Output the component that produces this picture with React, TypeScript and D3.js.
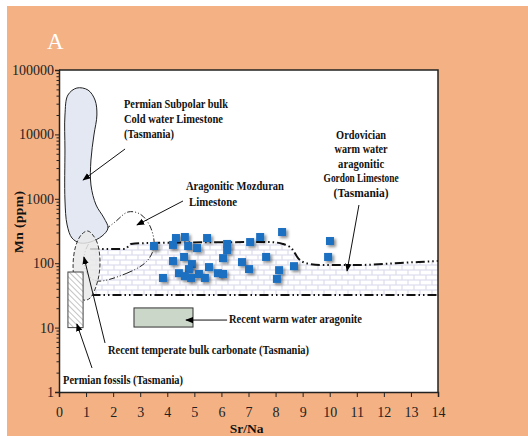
import React, { useEffect, useRef } from 'react';
import * as d3 from 'd3';

const W = 528, H = 436;

// samples: Sr/Na vs Mn (ppm)
const srNa = [3.51, 4.32, 4.65, 4.21, 4.77, 5.10, 5.47, 6.21, 6.21, 4.21, 4.62, 4.91, 4.80, 5.54, 6.06, 3.84, 4.43, 4.65, 4.88, 5.17,
  5.39, 5.87, 6.06, 7.06, 7.43, 8.24, 7.65, 6.76, 7.02, 8.13, 8.05, 8.68, 10.01, 9.94];
const mn = [185, 246, 255, 192, 185, 172, 246, 199, 160, 108, 125, 97, 81, 87, 120, 59, 70, 63, 59, 68,
  59, 70, 68, 213, 255, 305, 125, 104, 81, 78, 57, 90, 221, 125];

// fields, outlines as [Sr/Na, Mn]
const permianBlob = [[0.66, 52500], [1.07, 48900], [1.33, 34200], [1.40, 20000], [1.29, 9790], [1.18, 4000], [1.18, 1640],
  [1.37, 801], [1.66, 504], [1.81, 352], [1.59, 264], [1.15, 213], [0.78, 206], [0.48, 246], [0.30, 392], [0.22, 958],
  [0.22, 5730], [0.22, 20000], [0.33, 40900]];
const mozduran = [[1.40, 53], [2.51, 70], [3.25, 108], [3.51, 185], [3.36, 378], [2.99, 581], [2.55, 624], [2.07, 436],
  [1.51, 284], [1.07, 192], [0.92, 112], [1.07, 66]];
const temperate = [[1.07, 316], [1.37, 229], [1.51, 120], [1.44, 55], [1.15, 28.8], [0.92, 26.8], [0.63, 41], [0.52, 94],
  [0.63, 192], [0.85, 284]];
const gordonTop = [[1.15, 166], [2.44, 166], [2.66, 199], [3.36, 206], [7.79, 213], [8.27, 199], [8.61, 166], [8.83, 120],
  [9.09, 101], [9.64, 94], [11.12, 94], [12.6, 101], [14, 108]];
const gordonBottom = [[1.2, 32], [14, 32]];
const fossilsBox = [[0.33, 10], [0.89, 73]];
const warmBox = [[2.77, 10.2], [4.95, 20.2]];

// arrows [from, to]
const arrows = [
  [[2.44, 5930], [0.89, 1960]],
  [[4.58, 925], [2.88, 392]],
  [[11.08, 801], [10.64, 75.7]],
  [[6.21, 13.1], [4.69, 13.1]],
  [[1.70, 5.77], [0.92, 125]],
  [[1.22, 2.36], [0.66, 11.4]],
];

const xTicks = [0, 1, 2, 3, 4, 5, 6, 7, 8, 9, 10, 11, 12, 13, 14];
const yTicks = [1, 10, 100, 1000, 10000, 100000];

const serif = '"Liberation Serif", "DejaVu Serif", serif';

const draw = (node) => {
  const svg = d3.select(node);
  svg.selectAll('*').remove();

  const x = d3.scaleLinear().domain([0, 14]).range([59, 438]);
  const y = d3.scaleLog().domain([1, 100000]).range([392, 70]);

  const defs = svg.append('defs');
  const brick = defs.append('pattern').attr('id', 'bricks').attr('patternUnits', 'userSpaceOnUse')
    .attr('width', 12).attr('height', 10);
  brick.append('rect').attr('width', 12).attr('height', 10).attr('fill', '#dddced');
  brick.append('rect').attr('x', 0.6).attr('y', 0.6).attr('width', 10.8).attr('height', 3.8).attr('fill', '#fff');
  brick.append('rect').attr('x', -5.4).attr('y', 5.6).attr('width', 10.8).attr('height', 3.8).attr('fill', '#fff');
  brick.append('rect').attr('x', 6.6).attr('y', 5.6).attr('width', 10.8).attr('height', 3.8).attr('fill', '#fff');

  const hatch = defs.append('pattern').attr('id', 'hatch').attr('patternUnits', 'userSpaceOnUse')
    .attr('width', 4).attr('height', 4).attr('patternTransform', 'rotate(-45)');
  hatch.append('rect').attr('width', 4).attr('height', 4).attr('fill', '#fff');
  hatch.append('line').attr('x1', 0).attr('y1', 0).attr('x2', 0).attr('y2', 4).attr('stroke', '#8a8a8a').attr('stroke-width', 1);

  const f = defs.append('filter').attr('id', 'sh').attr('x', '-60%').attr('y', '-60%').attr('width', '220%').attr('height', '220%');
  f.append('feDropShadow').attr('dx', 2).attr('dy', 2).attr('stdDeviation', 1.4)
    .attr('flood-color', '#000').attr('flood-opacity', 0.45);

  defs.append('marker').attr('id', 'arr').attr('viewBox', '0 0 10 10').attr('refX', 9).attr('refY', 5)
    .attr('markerWidth', 8).attr('markerHeight', 8).attr('markerUnits', 'userSpaceOnUse').attr('orient', 'auto')
    .append('path').attr('d', 'M0,1L10,5L0,9Z').attr('fill', '#000');

  // background
  svg.append('rect').attr('width', W).attr('height', H).attr('fill', '#fff');
  svg.append('rect').attr('x', 7).attr('y', 6).attr('width', W - 7).attr('height', H - 6).attr('fill', '#f4b183');
  svg.append('rect').attr('x', x(0)).attr('y', y(100000)).attr('width', x(14) - x(0)).attr('height', y(1) - y(100000)).attr('fill', '#fff');

  svg.append('text').attr('x', 47).attr('y', 49).attr('fill', '#fff').attr('font-family', serif).attr('font-size', 23).text('A');

  // Gordon limestone band
  svg.append('path').datum(gordonTop)
    .attr('d', d3.area().x(d => x(d[0])).y0(y(32)).y1(d => y(d[1])).curve(d3.curveMonotoneX))
    .attr('fill', 'url(#bricks)');
  const dashLine = d3.line().x(d => x(d[0])).y(d => y(d[1])).curve(d3.curveMonotoneX);
  [gordonTop, gordonBottom].forEach(l => {
    svg.append('path').datum(l).attr('d', dashLine).attr('fill', 'none').attr('stroke', '#111')
      .attr('stroke-width', 2).attr('stroke-dasharray', '9,3,1.5,3,1.5,3');
  });

  const closed = d3.line().x(d => x(d[0])).y(d => y(d[1])).curve(d3.curveCatmullRomClosed);

  // Mozduran outline
  svg.append('path').datum(mozduran).attr('d', closed).attr('fill', 'none').attr('stroke', '#222')
    .attr('stroke-width', 1).attr('stroke-dasharray', '6,2,1,2,1,2');

  // Permian subpolar blob
  svg.append('path').datum(permianBlob).attr('d', closed).attr('fill', '#e3e8f2').attr('stroke', '#222').attr('stroke-width', 1);

  // Recent temperate bulk carbonate
  svg.append('path').datum(temperate).attr('d', closed).attr('fill', '#e9e9e9').attr('fill-opacity', 0.85)
    .attr('stroke', '#333').attr('stroke-width', 1).attr('stroke-dasharray', '4,2');

  // boxes
  svg.append('rect').attr('x', x(fossilsBox[0][0])).attr('y', y(fossilsBox[1][1]))
    .attr('width', x(fossilsBox[1][0]) - x(fossilsBox[0][0])).attr('height', y(fossilsBox[0][1]) - y(fossilsBox[1][1]))
    .attr('fill', 'url(#hatch)').attr('stroke', '#444').attr('stroke-width', 1);
  svg.append('rect').attr('x', x(warmBox[0][0])).attr('y', y(warmBox[1][1]))
    .attr('width', x(warmBox[1][0]) - x(warmBox[0][0])).attr('height', y(warmBox[0][1]) - y(warmBox[1][1]))
    .attr('fill', '#cbd7c9').attr('stroke', '#333').attr('stroke-width', 1);

  // samples
  svg.append('g').selectAll('rect').data(srNa).enter().append('rect')
    .attr('x', (d) => x(d) - 4).attr('y', (d, i) => y(mn[i]) - 4)
    .attr('width', 8).attr('height', 8).attr('fill', '#1f70c1').attr('filter', 'url(#sh)');

  // arrows
  svg.append('g').selectAll('line').data(arrows).enter().append('line')
    .attr('x1', d => x(d[0][0])).attr('y1', d => y(d[0][1]))
    .attr('x2', d => x(d[1][0])).attr('y2', d => y(d[1][1]))
    .attr('stroke', '#111').attr('stroke-width', 1).attr('marker-end', 'url(#arr)');

  // labels
  const note = (txt, px, py, len, anchor = 'start') => {
    svg.append('text').attr('x', px).attr('y', py).attr('text-anchor', anchor)
      .attr('font-family', serif).attr('font-weight', 'bold').attr('font-size', 13.5).attr('fill', '#111')
      .attr('textLength', len).attr('lengthAdjust', 'spacingAndGlyphs').text(txt);
  };
  note('Permian Subpolar bulk', x(2.40), y(25700), 104);
  note('Cold water Limestone', x(2.40), y(25700) + 15, 99);
  note('(Tasmania)', x(2.40), y(25700) + 30, 50);
  note('Aragonitic Mozduran', x(4.69), y(1370), 98);
  note('Limestone', x(4.69) + 3, y(1370) + 16, 48);
  ['Ordovician', 'warm water', 'aragonitic', 'Gordon Limestone', '(Tasmania)'].forEach((t, i) => {
    note(t, x(11.16), y(8490) + i * 14.5, [50, 53, 46, 75, 55][i], 'middle');
  });
  note('Recent warm water aragonite', x(6.28), y(11.8), 133);
  note('Recent temperate bulk carbonate (Tasmania)', x(1.81), y(3.89), 201);
  note('Permian fossils (Tasmania)', x(0.15), y(1.33), 120);

  // axes
  const gx = svg.append('g').attr('transform', `translate(0,${y(1)})`)
    .call(d3.axisBottom(x).tickValues(xTicks).tickSize(5).tickPadding(10).tickFormat(d3.format('d')));
  const gy = svg.append('g').attr('transform', `translate(${x(0)},0)`)
    .call(d3.axisLeft(y).tickValues(yTicks).tickSize(4).tickPadding(1).tickFormat(d => String(d)));
  const minor = y.ticks().filter(v => !yTicks.includes(v));
  svg.append('g').attr('transform', `translate(${x(0)},0)`)
    .call(d3.axisLeft(y).tickValues(minor).tickSize(2.5).tickFormat(() => ''))
    .select('.domain').remove();
  [gx, gy].forEach(g => {
    g.attr('font-family', serif);
    g.selectAll('text').attr('font-family', serif).attr('font-size', 14).attr('fill', '#222');
    g.select('.domain').attr('stroke', '#222').attr('stroke-width', 1.5);
  });
  svg.selectAll('.tick line').attr('stroke', '#222');

  // frame top/right
  svg.append('path').attr('d', `M${x(0)},${y(100000)}H${x(14)}V${y(1)}`).attr('fill', 'none')
    .attr('stroke', '#222').attr('stroke-width', 1.5);

  svg.append('text').attr('x', (x(0) + x(14)) / 2 - 2).attr('y', 433).attr('text-anchor', 'middle')
    .attr('font-family', serif).attr('font-weight', 'bold').attr('font-size', 13.5).attr('fill', '#111').text('Sr/Na');
  svg.append('text').attr('transform', 'translate(23,222) rotate(-90)').attr('text-anchor', 'middle')
    .attr('font-family', serif).attr('font-weight', 'bold').attr('font-size', 13.5).attr('fill', '#111')
    .attr('textLength', 62).attr('lengthAdjust', 'spacing').text('Mn (ppm)');
};

const App = () => {
  const ref = useRef(null);

  useEffect(() => {
    draw(ref.current);
  }, []);

  return <svg ref={ref} width={W} height={H} style={{ position: 'absolute', left: 0, top: 0 }} />;
};

export default App;
